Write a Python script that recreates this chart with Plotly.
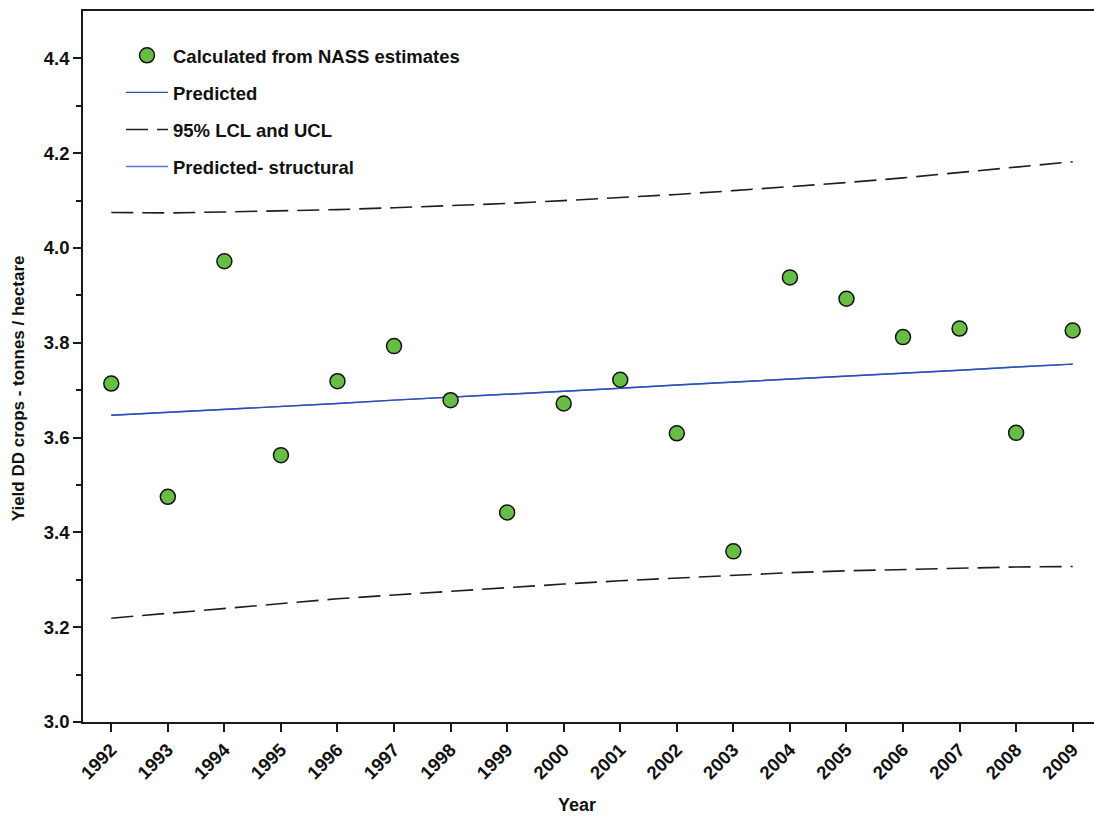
import plotly.graph_objects as go

years = list(range(1992, 2010))
observed = [3.714, 3.475, 3.972, 3.563, 3.719, 3.793, 3.679, 3.442, 3.672,
            3.722, 3.609, 3.360, 3.938, 3.893, 3.812, 3.830, 3.610, 3.826]
predicted = [3.647, 3.653, 3.660, 3.666, 3.672, 3.679, 3.685, 3.692, 3.698,
             3.704, 3.711, 3.717, 3.723, 3.730, 3.736, 3.742, 3.749, 3.755]
structural = list(predicted)
ucl = [4.075, 4.074, 4.076, 4.078, 4.081, 4.085, 4.089, 4.094, 4.100,
       4.106, 4.113, 4.121, 4.129, 4.138, 4.148, 4.159, 4.170, 4.182]
lcl = [3.219, 3.229, 3.240, 3.250, 3.260, 3.268, 3.276, 3.284, 3.291,
       3.298, 3.304, 3.310, 3.315, 3.319, 3.322, 3.325, 3.327, 3.328]
ytick_vals = [3.0, 3.2, 3.4, 3.6, 3.8, 4.0, 4.2, 4.4]
yminor_vals = [3.1, 3.3, 3.5, 3.7, 3.9, 4.1, 4.3]
xtick_text = [str(y) for y in years]

FONT = "Liberation Sans, Arial, Helvetica, sans-serif"
AX = "#1a1a1a"
DASH = "22px,9px"

fig = go.Figure()
fig.add_trace(go.Scatter(x=years, y=ucl, mode="lines", name="95% LCL and UCL",
                         line=dict(color="#1e1e1e", width=1.6, dash=DASH),
                         legendgroup="c", legendrank=3))
fig.add_trace(go.Scatter(x=years, y=lcl, mode="lines", name="95% LCL and UCL",
                         line=dict(color="#1e1e1e", width=1.6, dash=DASH),
                         legendgroup="c", showlegend=False))
fig.add_trace(go.Scatter(x=years, y=structural, mode="lines", name="Predicted- structural",
                         line=dict(color="#5a7ad0", width=1.4),
                         legendgroup="d", legendrank=4))
fig.add_trace(go.Scatter(x=years, y=predicted, mode="lines", name="Predicted",
                         line=dict(color="#2c4fb5", width=1.4),
                         legendgroup="b", legendrank=2))
fig.add_trace(go.Scatter(x=years, y=observed, mode="markers",
                         name="Calculated from NASS estimates",
                         marker=dict(size=15, color="#68bd45",
                                     line=dict(color="#111111", width=1.5)),
                         legendgroup="a", legendrank=1))

L, R, T, B = 83, 0, 11, 96
W, H = 1094, 818
pw, ph = W - L - R, H - T - B

fig.update_layout(
    template="none",
    width=W, height=H,
    margin=dict(l=L, r=R, t=T, b=B, pad=0),
    plot_bgcolor="white", paper_bgcolor="white",
    font=dict(family=FONT, color="#111111"),
    showlegend=True,
    legend=dict(x=(121 - L) / pw, y=(721.7 - 36.5) / ph, xanchor="left", yanchor="top",
                bgcolor="rgba(0,0,0,0)", borderwidth=0,
                font=dict(family=FONT, size=18.5, weight="bold", color="#111111"),
                traceorder="grouped", tracegroupgap=10, itemwidth=42),
    xaxis=dict(range=[1991.5, 2009 + (W - R - 1072.7) / 56.5], tickmode="array",
               tickvals=years, ticktext=xtick_text, tickangle=-45,
               ticks="outside", ticklen=8, tickwidth=1.5, tickcolor=AX,
               showline=True, mirror=True, linecolor=AX, linewidth=1.6, showgrid=False,
               zeroline=False, automargin=False,
               tickfont=dict(family=FONT, size=18.5, weight="bold", color="#111111")),
    yaxis=dict(range=[3.0, 4.5], tickmode="array", tickvals=ytick_vals,
               ticktext=[f"{v:.1f}" for v in ytick_vals],
               ticks="outside", ticklen=8, tickwidth=1.5, tickcolor=AX,
               showline=True, mirror=False, linecolor=AX, linewidth=1.6, showgrid=False,
               zeroline=False, automargin=False,
               minor=dict(tickvals=yminor_vals, ticks="outside", ticklen=5,
                          tickwidth=1.5, tickcolor=AX, showgrid=False),
               tickfont=dict(family=FONT, size=18.5, weight="bold", color="#111111")),
    annotations=[
        dict(text="Yield DD crops - tonnes / hectare", xref="paper", yref="paper",
             x=(18 - L) / pw, y=(721.7 - 388) / ph, textangle=-90, showarrow=False,
             xanchor="center", yanchor="middle",
             font=dict(family=FONT, size=17, weight="bold", color="#111111")),
        dict(text="Year", xref="paper", yref="paper",
             x=(577 - L) / pw, y=-(805 - 721.7) / ph, showarrow=False,
             xanchor="center", yanchor="middle",
             font=dict(family=FONT, size=18, weight="bold", color="#111111")),
    ],
)

fig.write_html("out.html")
